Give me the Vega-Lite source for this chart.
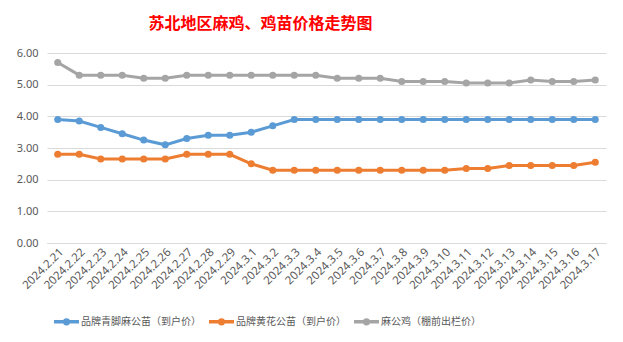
{
  "$schema": "https://vega.github.io/schema/vega-lite/v6.json",
  "width": 559,
  "height": 190,
  "autosize": {"type": "none"},
  "padding": {"left": 47, "top": 53, "right": 17, "bottom": 99},
  "background": "#ffffff",
  "title": {
    "text": "苏北地区麻鸡、鸡苗价格走势图",
    "color": "#FF0000",
    "font": "Noto Sans CJK SC",
    "fontSize": 16,
    "fontWeight": "bold",
    "anchor": "middle",
    "dx": -66,
    "offset": 15
  },
  "config": {
    "view": {"stroke": null},
    "font": "Noto Sans CJK SC"
  },
  "data": {
    "values": [
      {"date": "2024.2.21", "s": "品牌青脚麻公苗（到户价）", "p": 3.9},
      {"date": "2024.2.22", "s": "品牌青脚麻公苗（到户价）", "p": 3.85},
      {"date": "2024.2.23", "s": "品牌青脚麻公苗（到户价）", "p": 3.65},
      {"date": "2024.2.24", "s": "品牌青脚麻公苗（到户价）", "p": 3.45},
      {"date": "2024.2.25", "s": "品牌青脚麻公苗（到户价）", "p": 3.25},
      {"date": "2024.2.26", "s": "品牌青脚麻公苗（到户价）", "p": 3.1},
      {"date": "2024.2.27", "s": "品牌青脚麻公苗（到户价）", "p": 3.3},
      {"date": "2024.2.28", "s": "品牌青脚麻公苗（到户价）", "p": 3.4},
      {"date": "2024.2.29", "s": "品牌青脚麻公苗（到户价）", "p": 3.4},
      {"date": "2024.3.1", "s": "品牌青脚麻公苗（到户价）", "p": 3.5},
      {"date": "2024.3.2", "s": "品牌青脚麻公苗（到户价）", "p": 3.7},
      {"date": "2024.3.3", "s": "品牌青脚麻公苗（到户价）", "p": 3.9},
      {"date": "2024.3.4", "s": "品牌青脚麻公苗（到户价）", "p": 3.9},
      {"date": "2024.3.5", "s": "品牌青脚麻公苗（到户价）", "p": 3.9},
      {"date": "2024.3.6", "s": "品牌青脚麻公苗（到户价）", "p": 3.9},
      {"date": "2024.3.7", "s": "品牌青脚麻公苗（到户价）", "p": 3.9},
      {"date": "2024.3.8", "s": "品牌青脚麻公苗（到户价）", "p": 3.9},
      {"date": "2024.3.9", "s": "品牌青脚麻公苗（到户价）", "p": 3.9},
      {"date": "2024.3.10", "s": "品牌青脚麻公苗（到户价）", "p": 3.9},
      {"date": "2024.3.11", "s": "品牌青脚麻公苗（到户价）", "p": 3.9},
      {"date": "2024.3.12", "s": "品牌青脚麻公苗（到户价）", "p": 3.9},
      {"date": "2024.3.13", "s": "品牌青脚麻公苗（到户价）", "p": 3.9},
      {"date": "2024.3.14", "s": "品牌青脚麻公苗（到户价）", "p": 3.9},
      {"date": "2024.3.15", "s": "品牌青脚麻公苗（到户价）", "p": 3.9},
      {"date": "2024.3.16", "s": "品牌青脚麻公苗（到户价）", "p": 3.9},
      {"date": "2024.3.17", "s": "品牌青脚麻公苗（到户价）", "p": 3.9},
      {"date": "2024.2.21", "s": "品牌黄花公苗（到户价）", "p": 2.8},
      {"date": "2024.2.22", "s": "品牌黄花公苗（到户价）", "p": 2.8},
      {"date": "2024.2.23", "s": "品牌黄花公苗（到户价）", "p": 2.65},
      {"date": "2024.2.24", "s": "品牌黄花公苗（到户价）", "p": 2.65},
      {"date": "2024.2.25", "s": "品牌黄花公苗（到户价）", "p": 2.65},
      {"date": "2024.2.26", "s": "品牌黄花公苗（到户价）", "p": 2.65},
      {"date": "2024.2.27", "s": "品牌黄花公苗（到户价）", "p": 2.8},
      {"date": "2024.2.28", "s": "品牌黄花公苗（到户价）", "p": 2.8},
      {"date": "2024.2.29", "s": "品牌黄花公苗（到户价）", "p": 2.8},
      {"date": "2024.3.1", "s": "品牌黄花公苗（到户价）", "p": 2.5},
      {"date": "2024.3.2", "s": "品牌黄花公苗（到户价）", "p": 2.3},
      {"date": "2024.3.3", "s": "品牌黄花公苗（到户价）", "p": 2.3},
      {"date": "2024.3.4", "s": "品牌黄花公苗（到户价）", "p": 2.3},
      {"date": "2024.3.5", "s": "品牌黄花公苗（到户价）", "p": 2.3},
      {"date": "2024.3.6", "s": "品牌黄花公苗（到户价）", "p": 2.3},
      {"date": "2024.3.7", "s": "品牌黄花公苗（到户价）", "p": 2.3},
      {"date": "2024.3.8", "s": "品牌黄花公苗（到户价）", "p": 2.3},
      {"date": "2024.3.9", "s": "品牌黄花公苗（到户价）", "p": 2.3},
      {"date": "2024.3.10", "s": "品牌黄花公苗（到户价）", "p": 2.3},
      {"date": "2024.3.11", "s": "品牌黄花公苗（到户价）", "p": 2.35},
      {"date": "2024.3.12", "s": "品牌黄花公苗（到户价）", "p": 2.35},
      {"date": "2024.3.13", "s": "品牌黄花公苗（到户价）", "p": 2.45},
      {"date": "2024.3.14", "s": "品牌黄花公苗（到户价）", "p": 2.45},
      {"date": "2024.3.15", "s": "品牌黄花公苗（到户价）", "p": 2.45},
      {"date": "2024.3.16", "s": "品牌黄花公苗（到户价）", "p": 2.45},
      {"date": "2024.3.17", "s": "品牌黄花公苗（到户价）", "p": 2.55},
      {"date": "2024.2.21", "s": "麻公鸡（棚前出栏价）", "p": 5.7},
      {"date": "2024.2.22", "s": "麻公鸡（棚前出栏价）", "p": 5.3},
      {"date": "2024.2.23", "s": "麻公鸡（棚前出栏价）", "p": 5.3},
      {"date": "2024.2.24", "s": "麻公鸡（棚前出栏价）", "p": 5.3},
      {"date": "2024.2.25", "s": "麻公鸡（棚前出栏价）", "p": 5.2},
      {"date": "2024.2.26", "s": "麻公鸡（棚前出栏价）", "p": 5.2},
      {"date": "2024.2.27", "s": "麻公鸡（棚前出栏价）", "p": 5.3},
      {"date": "2024.2.28", "s": "麻公鸡（棚前出栏价）", "p": 5.3},
      {"date": "2024.2.29", "s": "麻公鸡（棚前出栏价）", "p": 5.3},
      {"date": "2024.3.1", "s": "麻公鸡（棚前出栏价）", "p": 5.3},
      {"date": "2024.3.2", "s": "麻公鸡（棚前出栏价）", "p": 5.3},
      {"date": "2024.3.3", "s": "麻公鸡（棚前出栏价）", "p": 5.3},
      {"date": "2024.3.4", "s": "麻公鸡（棚前出栏价）", "p": 5.3},
      {"date": "2024.3.5", "s": "麻公鸡（棚前出栏价）", "p": 5.2},
      {"date": "2024.3.6", "s": "麻公鸡（棚前出栏价）", "p": 5.2},
      {"date": "2024.3.7", "s": "麻公鸡（棚前出栏价）", "p": 5.2},
      {"date": "2024.3.8", "s": "麻公鸡（棚前出栏价）", "p": 5.1},
      {"date": "2024.3.9", "s": "麻公鸡（棚前出栏价）", "p": 5.1},
      {"date": "2024.3.10", "s": "麻公鸡（棚前出栏价）", "p": 5.1},
      {"date": "2024.3.11", "s": "麻公鸡（棚前出栏价）", "p": 5.05},
      {"date": "2024.3.12", "s": "麻公鸡（棚前出栏价）", "p": 5.05},
      {"date": "2024.3.13", "s": "麻公鸡（棚前出栏价）", "p": 5.05},
      {"date": "2024.3.14", "s": "麻公鸡（棚前出栏价）", "p": 5.15},
      {"date": "2024.3.15", "s": "麻公鸡（棚前出栏价）", "p": 5.1},
      {"date": "2024.3.16", "s": "麻公鸡（棚前出栏价）", "p": 5.1},
      {"date": "2024.3.17", "s": "麻公鸡（棚前出栏价）", "p": 5.15}
    ]
  },
  "mark": {
    "type": "line",
    "strokeWidth": 3,
    "point": {"filled": true, "size": 50}
  },
  "encoding": {
    "x": {
      "field": "date",
      "type": "ordinal",
      "sort": null,
      "scale": {"type": "band", "paddingInner": 0, "paddingOuter": 0},
      "axis": {
        "title": null,
        "labelAngle": -45,
        "labelFontSize": 11.5,
        "labelFont": "Noto Sans",
        "labelColor": "#595959",
        "ticks": false,
        "domainColor": "#D9D9D9",
        "labelPadding": 3,
        "grid": false
      }
    },
    "y": {
      "field": "p",
      "type": "quantitative",
      "scale": {"domain": [0, 6], "nice": false},
      "axis": {
        "title": null,
        "values": [0, 1, 2, 3, 4, 5, 6],
        "format": ".2f",
        "labelFontSize": 11,
        "labelFont": "Noto Sans",
        "labelColor": "#595959",
        "ticks": false,
        "domain": false,
        "gridColor": "#D9D9D9",
        "labelPadding": 9
      }
    },
    "color": {
      "field": "s",
      "type": "nominal",
      "sort": null,
      "scale": {
        "domain": ["品牌青脚麻公苗（到户价）", "品牌黄花公苗（到户价）", "麻公鸡（棚前出栏价）"],
        "range": ["#5B9BD5", "#ED7D31", "#A5A5A5"]
      },
      "legend": {
        "title": null,
        "orient": "none",
        "direction": "horizontal",
        "legendX": 5,
        "legendY": 254,
        "labelFontSize": 10,
        "labelColor": "#595959",
        "labelFont": "Noto Sans CJK SC",
        "symbolType": "M-1,0H1M-0.15,0A0.15,0.15,0,1,1,0.15,0A0.15,0.15,0,1,1,-0.15,0",
        "symbolSize": 625,
        "symbolStrokeWidth": 3.5,
        "columnPadding": 1,
        "labelOffset": 0
      }
    }
  }
}
